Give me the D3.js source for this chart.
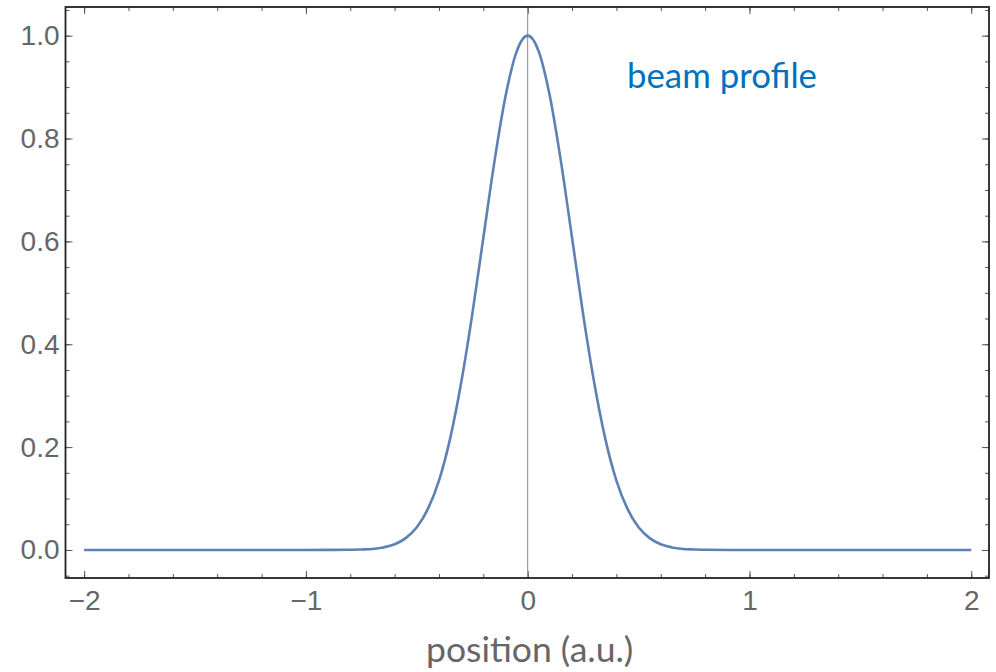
<!DOCTYPE html>
<html>
<head>
<meta charset="utf-8">
<script src="https://cdn.jsdelivr.net/npm/d3@7"></script>
<style>
  body { margin: 0; background: #fff; }
  svg { display: block; }
  .tick text { font-family: "Liberation Sans", Arial, sans-serif; font-size: 28px; fill: #666; }
</style>
</head>
<body>
<svg id="beamChart" width="996" height="672"></svg>
<script>
// positions (a.u.) and intensities
var positions = [-2, -1.5, -1, -0.8, -0.75, -0.7, -0.65, -0.6, -0.55, -0.5, -0.45, -0.4, -0.35, -0.3, -0.25, -0.2, -0.15, -0.1, -0.05,
    0, 0.05, 0.1, 0.15, 0.2, 0.25, 0.3, 0.35, 0.4, 0.45, 0.5, 0.55, 0.6, 0.65, 0.7, 0.75, 0.8, 1, 1.5, 2];
var intensity = [0, 0, 0, 0.0003, 0.001, 0.002, 0.005, 0.011, 0.023, 0.044, 0.080, 0.135, 0.216, 0.325, 0.458, 0.607, 0.755, 0.882, 0.969,
    1, 0.969, 0.882, 0.755, 0.607, 0.458, 0.325, 0.216, 0.135, 0.080, 0.044, 0.023, 0.011, 0.005, 0.002, 0.001, 0.0003, 0, 0, 0];
var xMajorTicks = [-2, -1, 0, 1, 2];
var yMajorTicks = [0, 0.2, 0.4, 0.6, 0.8, 1.0];
var curveLabel = "beam profile";
var xTitle = "position (a.u.)";

var svg = d3.select("#beamChart");
var frame = { left: 65.5, right: 989, top: 7, bottom: 578 };

var x = d3.scaleLinear().domain([-2.084, 2.080]).range([frame.left, frame.right]);
var y = d3.scaleLinear().domain([-0.0545, 1.0557]).range([frame.bottom, frame.top]);

var xMinor = d3.range(-2, 2.0001, 0.2).map(function (d) { return +d.toFixed(2); });
var yMinor = d3.range(-0.05, 1.06, 0.05).map(function (d) { return +d.toFixed(2); });

function styleAxis(g) {
    g.select(".domain").remove();
    g.selectAll(".tick line").attr("stroke", "#555").attr("stroke-width", 1);
}

// minor ticks on all four sides
svg.append("g").attr("transform", "translate(0," + frame.bottom + ")")
    .call(d3.axisBottom(x).tickValues(xMinor).tickSize(-4).tickFormat("")).call(styleAxis);
svg.append("g").attr("transform", "translate(0," + frame.top + ")")
    .call(d3.axisTop(x).tickValues(xMinor).tickSize(-4).tickFormat("")).call(styleAxis);
svg.append("g").attr("transform", "translate(" + frame.left + ",0)")
    .call(d3.axisLeft(y).tickValues(yMinor).tickSize(-4).tickFormat("")).call(styleAxis);
svg.append("g").attr("transform", "translate(" + frame.right + ",0)")
    .call(d3.axisRight(y).tickValues(yMinor).tickSize(-4).tickFormat("")).call(styleAxis);

// major ticks with labels
svg.append("g").attr("transform", "translate(0," + frame.bottom + ")")
    .call(d3.axisBottom(x).tickValues(xMajorTicks).tickSize(-7).tickPadding(12).tickFormat(d3.format("d")))
    .call(styleAxis);
svg.append("g").attr("transform", "translate(0," + frame.top + ")")
    .call(d3.axisTop(x).tickValues(xMajorTicks).tickSize(-7).tickFormat("")).call(styleAxis);
svg.append("g").attr("transform", "translate(" + frame.left + ",0)")
    .call(d3.axisLeft(y).tickValues(yMajorTicks).tickSize(-7).tickPadding(6).tickFormat(d3.format(".1f")))
    .call(styleAxis);
svg.append("g").attr("transform", "translate(" + frame.right + ",0)")
    .call(d3.axisRight(y).tickValues(yMajorTicks).tickSize(-7).tickFormat("")).call(styleAxis);

// vertical axis line at x = 0
svg.append("line")
    .attr("x1", x(0)).attr("x2", x(0))
    .attr("y1", frame.top).attr("y2", frame.bottom)
    .attr("stroke", "#888").attr("stroke-width", 1);

// frame
svg.append("rect")
    .attr("x", frame.left).attr("y", frame.top)
    .attr("width", frame.right - frame.left).attr("height", frame.bottom - frame.top)
    .attr("fill", "none").attr("stroke", "#222").attr("stroke-width", 1.8);

var line = d3.line()
    .x(function (d, i) { return x(positions[i]); })
    .y(function (d) { return y(d); })
    .curve(d3.curveMonotoneX);

svg.append("path")
    .datum(intensity)
    .attr("d", line)
    .attr("fill", "none")
    .attr("stroke", "#5e81b5")
    .attr("stroke-width", 2.6);

svg.append("text")
    .attr("x", 627).attr("y", 88)
    .attr("font-family", "Lato, 'Open Sans', sans-serif")
    .attr("font-size", 34.8)
    .attr("fill", "#0070c0")
    .text(curveLabel);

svg.append("text")
    .attr("x", x(0) + 2).attr("y", 662)
    .attr("text-anchor", "middle")
    .attr("font-family", "Lato, 'Open Sans', sans-serif")
    .attr("font-size", 35.5)
    .attr("fill", "#666")
    .text(xTitle);
</script>
</body>
</html>
